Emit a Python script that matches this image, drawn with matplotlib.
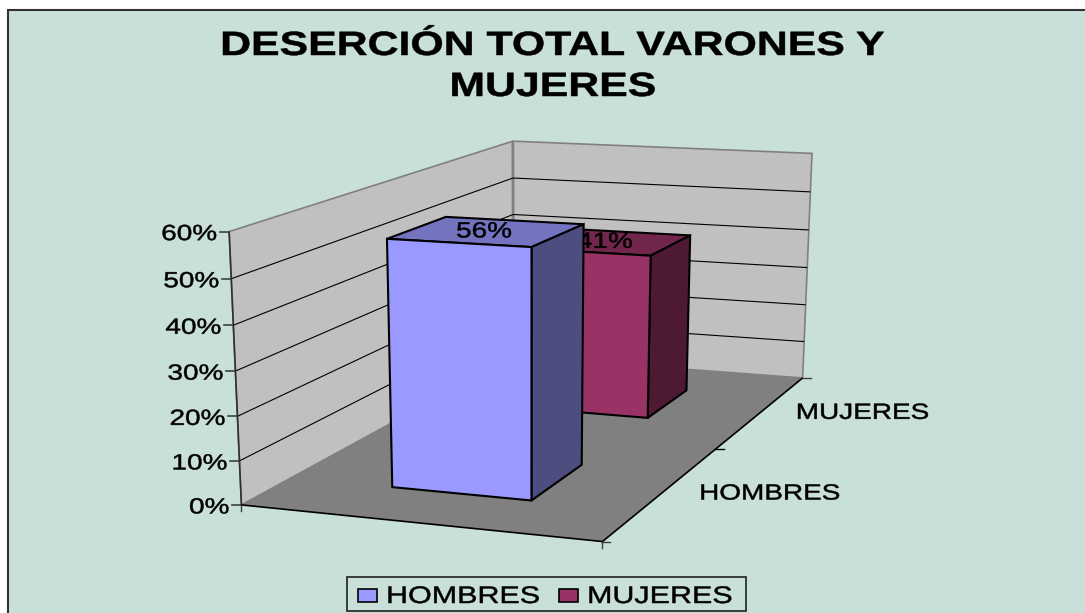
import numpy as np
import matplotlib
matplotlib.use("Agg")
import matplotlib.pyplot as plt
from matplotlib.patches import Polygon, Rectangle
from matplotlib.path import Path
from matplotlib.text import Text
from matplotlib.textpath import TextPath
from matplotlib.transforms import Affine2D, Bbox
from matplotlib.font_manager import FontProperties

# chart values
title_lines = ["DESERCIÓN TOTAL VARONES Y", "MUJERES"]
series_names = ["HOMBRES", "MUJERES"]
series_values = [0.56, 0.41]
value_labels = ["56%", "41%"]
value_ticks = [0.0, 0.1, 0.2, 0.3, 0.4, 0.5, 0.6]
value_tick_labels = ["0%", "10%", "20%", "30%", "40%", "50%", "60%"]

front_colors = ["#9999FF", "#993366"]
top_colors = ["#7373BF", "#73264D"]
side_colors = ["#4D4D80", "#4D1933"]
bg = "#C9E0D8"

# where the corners of the chart box land in the picture: (x, depth, value) -> pixel
box_corners = [(0, 0, 0), (1, 0, 0), (1, 1, 0), (0, 1, 0), (0, 0, .6), (0, 1, .6), (1, 1, .6)]
box_pixels = [(242, 505), (602, 542), (803, 377), (513, 357), (229, 231), (513, 141), (812, 154)]


# least squares fit of the 3x4 perspective matrix
def fit_projection(corners, pixels):
    rows, rhs = [], []
    for (x, y, z), (px, py) in zip(corners, pixels):
        rows.append([x, y, z, 1, 0, 0, 0, 0, -px * x, -px * y, -px * z])
        rows.append([0, 0, 0, 0, x, y, z, 1, -py * x, -py * y, -py * z])
        rhs += [px, py]
    m = np.linalg.lstsq(np.array(rows, float), np.array(rhs, float), rcond=None)[0]
    return np.append(m, 1).reshape(3, 4)


P = fit_projection(box_corners, box_pixels)


def project(x, y, z):
    a, b, w = P @ np.array([x, y, z, 1.0])
    return a / w, b / w


# the reference is stretched sideways, plain Text can't do that
class WideText(Text):
    stretch = 1.27

    def _outline(self):
        px = self.get_fontsize() * self.figure.dpi / 72
        path = TextPath((0, 0), self.get_text(), size=px, prop=self.get_fontproperties())
        box = path.get_extents()
        x0, y0 = self.get_transform().transform(self.get_position())
        width = box.x1 * self.stretch
        dx = {"left": 0, "center": -width / 2, "right": -width}[self.get_ha()]
        dy = -(box.y0 + box.y1) / 2 if self.get_va() == "center" else 0
        move = Affine2D().scale(self.stretch, 1).translate(x0 + dx, y0 + dy)
        return path, move

    def get_window_extent(self, renderer=None, dpi=None):
        path, move = self._outline()
        return Bbox(path.transformed(move).get_extents().get_points())

    def draw(self, renderer):
        path, move = self._outline()
        gc = renderer.new_gc()
        gc.set_linewidth(0.35)
        gc.set_foreground("black")
        renderer.draw_path(gc, Path(path.vertices, path.codes), move, matplotlib.colors.to_rgba(self.get_color()))
        gc.restore()


fig = plt.figure(figsize=(10.85, 6.13), dpi=100, facecolor="white")
ax = fig.add_axes([0, 0, 1, 1])
ax.set_xlim(0, 1085)
ax.set_ylim(613, 0)
ax.axis("off")


def label(x, y, s, size=22, ha="center", va="center", weight="normal", zorder=10):
    t = WideText(x, y, s, ha=ha, va=va, color="black", zorder=zorder,
                 fontproperties=FontProperties(family="Liberation Sans", weight=weight, size=size * 0.72))
    ax.add_artist(t)


def face(corners, color, edge="black", lw=1.5, zorder=3):
    ax.add_patch(Polygon([project(*c) for c in corners], closed=True, facecolor=color,
                         edgecolor=edge, linewidth=lw, joinstyle="miter", zorder=zorder))


def seg(a, b, color="black", lw=1.0, zorder=2):
    pa, pb = project(*a), project(*b)
    ax.plot([pa[0], pb[0]], [pa[1], pb[1]], color=color, lw=lw, zorder=zorder, solid_capstyle="butt")


# background and frame
ax.add_patch(Rectangle((8, 10), 1100, 660, facecolor=bg, edgecolor="#333333", linewidth=1.5, zorder=0))

for line, base in zip(title_lines, [55, 96]):
    label(552, base, line, size=33.7, va="baseline", weight="bold")

# walls and floor
top = max(value_ticks)
face([(0, 0, 0), (0, 1, 0), (0, 1, top), (0, 0, top)], "#C0C0C0", edge="#808080", lw=1.2, zorder=1)
face([(0, 1, 0), (1, 1, 0), (1, 1, top), (0, 1, top)], "#C0C0C0", edge="#808080", lw=1.2, zorder=1)
face([(0, 0, 0), (1, 0, 0), (1, 1, 0), (0, 1, 0)], "#808080", edge="none", lw=0, zorder=1.5)
seg((0, 1, 0), (0, 1, top), color="#808080", lw=2)

# gridlines and value axis
for v, s in zip(value_ticks, value_tick_labels):
    if 0 < v < top:
        seg((0, 0, v), (0, 1, v), lw=0.8)
        seg((0, 1, v), (1, 1, v), lw=0.8)
    x, y = project(0, 0, v)
    ax.plot([x - 9, x], [y, y], color="#404040", lw=1.2, zorder=2)
    label(x - 13, y + 1, s, ha="right")
seg((0, 0, 0), (0, 0, top), color="#303030", lw=1.2)

# floor edges and depth axis
seg((0, 0, 0), (1, 0, 0), lw=1.2, zorder=2.5)
seg((1, 0, 0), (1, 1, 0), lw=1.2, zorder=2.5)
for px, py in [project(0, 0, 0), project(1, 0, 0)]:
    ax.plot([px, px], [py, py + 6], color="#404040", lw=1, zorder=2)
for d in [0, 0.5, 1]:
    px, py = project(1, d, 0)
    ax.plot([px, px + 8], [py, py], color="#404040" if d != 0.5 else "black", lw=1, zorder=2)
for d, s, off in zip([0.25, 0.75], series_names, [106, 100]):
    px, py = project(1, d, 0)
    label(px + off, py, s)

# bars, back one first so the front bar covers it
bar_x = (0.3, 0.7)
bar_pad = (0.15, 0.35)
for i in reversed(range(len(series_values))):
    h = series_values[i]
    u0, u1 = bar_x
    v0, v1 = i / 2 + bar_pad[0], i / 2 + bar_pad[1]
    z = 3 + (1 - i)
    face([(u0, v0, h), (u1, v0, h), (u1, v1, h), (u0, v1, h)], top_colors[i], zorder=z)
    face([(u1, v0, 0), (u1, v1, 0), (u1, v1, h), (u1, v0, h)], side_colors[i], zorder=z)
    face([(u0, v0, 0), (u1, v0, 0), (u1, v0, h), (u0, v0, h)], front_colors[i], zorder=z)
    lx, ly = project((u0 + u1) / 2, (v0 + v1) / 2, h)
    label(lx - 3.5, ly - 1.5, value_labels[i], zorder=z + 0.5)

# legend
ax.add_patch(Rectangle((347, 577), 399, 34, facecolor=bg, edgecolor="#202020", linewidth=1.2, zorder=6))
for name, color, sx in zip(series_names, front_colors, [358, 559]):
    ax.add_patch(Rectangle((sx, 589), 18.5, 13, facecolor=color, edgecolor="black", linewidth=1.2, zorder=7))
    label(sx + 28, 603, name, size=24, ha="left", va="baseline")

fig.savefig("out.png", dpi=100, facecolor="white")
